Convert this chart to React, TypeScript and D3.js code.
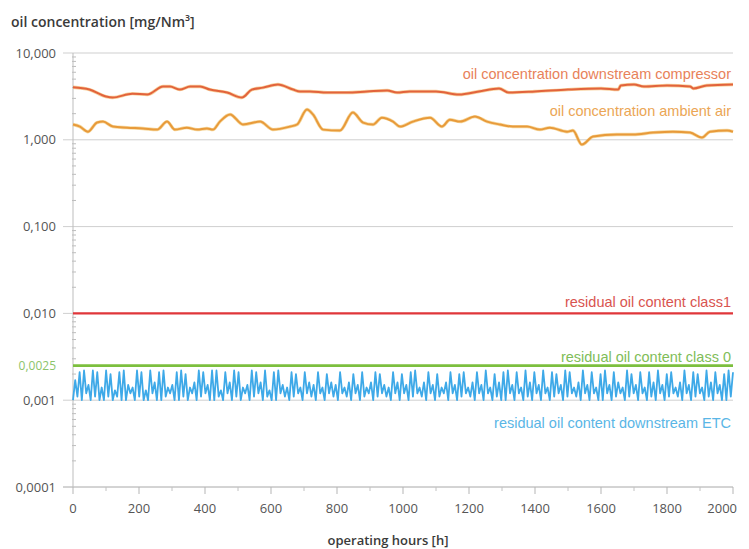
import React from 'react';
import * as d3 from 'd3';

// operating hours / oil concentration [mg/Nm³]
const compressorHours = [0, 50, 100, 120, 180, 225, 273, 294, 324, 355, 385, 415, 467, 512, 542, 576, 621, 667, 688, 718, 770, 830, 891, 952, 982, 1020, 1100, 1170, 1230, 1291, 1321, 1400, 1500, 1600, 1652, 1660, 1700, 1730, 1800, 1870, 1880, 1920, 2000];
const compressorValues = [4.03, 3.79, 3.15, 3.07, 3.4, 3.32, 4.11, 4.11, 3.79, 4.11, 4.11, 3.79, 3.5, 3.07, 3.79, 3.99, 4.33, 3.79, 3.6, 3.6, 3.5, 3.5, 3.6, 3.7, 3.5, 3.6, 3.6, 3.32, 3.6, 3.9, 3.5, 3.6, 3.79, 3.9, 3.79, 4.22, 4.33, 4.11, 4.22, 4.11, 3.9, 4.22, 4.33];

const ambientHours = [0, 21, 45, 73, 91, 121, 164, 212, 255, 285, 309, 345, 376, 406, 424, 445, 476, 515, 567, 606, 658, 679, 709, 727, 758, 809, 848, 879, 909, 936, 970, 991, 1030, 1082, 1118, 1142, 1173, 1218, 1255, 1294, 1333, 1376, 1415, 1445, 1497, 1515, 1542, 1576, 1648, 1697, 1758, 1818, 1870, 1906, 1930, 1982, 2000];
const ambientValues = [1.5, 1.42, 1.24, 1.58, 1.62, 1.42, 1.38, 1.35, 1.31, 1.62, 1.31, 1.38, 1.31, 1.35, 1.31, 1.62, 1.96, 1.5, 1.62, 1.31, 1.42, 1.5, 2.23, 1.96, 1.31, 1.28, 2.06, 1.58, 1.5, 1.8, 1.62, 1.42, 1.62, 1.8, 1.42, 1.7, 1.62, 1.85, 1.62, 1.5, 1.42, 1.42, 1.31, 1.38, 1.24, 1.28, 0.88, 1.09, 1.15, 1.15, 1.21, 1.24, 1.21, 1.06, 1.24, 1.28, 1.24];

const class1Value = 0.01;
const class0Value = 0.0025;

// residual oil content downstream ETC, evenly sampled over 0..2000 h
const etcValues = [
  0.0010, 0.0017, 0.0011, 0.0021, 0.0010, 0.0022, 0.0012, 0.0015, 0.0010, 0.0022, 0.0011, 0.0021, 0.0010, 0.0014, 0.0010, 0.0022, 0.0011, 0.0020, 0.0010, 0.0013,
  0.0011, 0.0021, 0.0010, 0.0022, 0.0010, 0.0015, 0.0012, 0.0014, 0.0010, 0.0022, 0.0011, 0.0021, 0.0010, 0.0013, 0.0010, 0.0022, 0.0012, 0.0016, 0.0010, 0.0021,
  0.0010, 0.0022, 0.0011, 0.0014, 0.0012, 0.0015, 0.0010, 0.0021, 0.0010, 0.0022, 0.0011, 0.0020, 0.0010, 0.0014, 0.0012, 0.0016, 0.0010, 0.0022, 0.0011, 0.0021,
  0.0012, 0.0015, 0.0010, 0.0022, 0.0010, 0.0022, 0.0011, 0.0013, 0.0010, 0.0021, 0.0012, 0.0016, 0.0010, 0.0022, 0.0011, 0.0021, 0.0010, 0.0014, 0.0012, 0.0015,
  0.0010, 0.0022, 0.0011, 0.0021, 0.0012, 0.0016, 0.0010, 0.0022, 0.0011, 0.0013, 0.0010, 0.0021, 0.0010, 0.0022, 0.0012, 0.0015, 0.0011, 0.0014, 0.0010, 0.0021,
  0.0011, 0.0020, 0.0012, 0.0014, 0.0010, 0.0021, 0.0012, 0.0016, 0.0011, 0.0015, 0.0010, 0.0021, 0.0012, 0.0014, 0.0010, 0.0020, 0.0012, 0.0016, 0.0011, 0.0015,
  0.0010, 0.0021, 0.0012, 0.0014, 0.0011, 0.0016, 0.0010, 0.0020, 0.0012, 0.0015, 0.0010, 0.0021, 0.0011, 0.0014, 0.0012, 0.0016, 0.0010, 0.0021, 0.0011, 0.0020,
  0.0012, 0.0015, 0.0011, 0.0014, 0.0010, 0.0021, 0.0012, 0.0016, 0.0010, 0.0020, 0.0012, 0.0015, 0.0010, 0.0021, 0.0011, 0.0022, 0.0012, 0.0014, 0.0011, 0.0016,
  0.0010, 0.0021, 0.0012, 0.0015, 0.0010, 0.0020, 0.0011, 0.0014, 0.0012, 0.0016, 0.0010, 0.0021, 0.0012, 0.0015, 0.0010, 0.0020, 0.0011, 0.0021, 0.0012, 0.0014,
  0.0011, 0.0016, 0.0010, 0.0021, 0.0012, 0.0015, 0.0010, 0.0022, 0.0012, 0.0014, 0.0010, 0.0020, 0.0011, 0.0016, 0.0010, 0.0021, 0.0010, 0.0022, 0.0012, 0.0015,
  0.0010, 0.0021, 0.0012, 0.0014, 0.0010, 0.0022, 0.0011, 0.0016, 0.0010, 0.0021, 0.0012, 0.0015, 0.0010, 0.0022, 0.0012, 0.0014, 0.0010, 0.0021, 0.0011, 0.0020,
  0.0012, 0.0015, 0.0010, 0.0022, 0.0011, 0.0021, 0.0012, 0.0014, 0.0011, 0.0016, 0.0010, 0.0022, 0.0012, 0.0015, 0.0010, 0.0021, 0.0012, 0.0014, 0.0010, 0.0020,
  0.0010, 0.0022, 0.0012, 0.0015, 0.0010, 0.0021, 0.0011, 0.0016, 0.0012, 0.0014, 0.0010, 0.0022, 0.0011, 0.0020, 0.0012, 0.0015, 0.0010, 0.0021, 0.0012, 0.0014,
  0.0010, 0.0021, 0.0011, 0.0016, 0.0010, 0.0022, 0.0012, 0.0015, 0.0010, 0.0020, 0.0011, 0.0021, 0.0012, 0.0014, 0.0011, 0.0016, 0.0010, 0.0022, 0.0012, 0.0015,
  0.0010, 0.0021, 0.0011, 0.0020, 0.0012, 0.0014, 0.0010, 0.0022, 0.0011, 0.0016, 0.0010, 0.0021, 0.0012, 0.0015, 0.0010, 0.0020, 0.0010, 0.0022, 0.0011, 0.0021,
];

const yTickValues = [10, 1, 0.1, 0.01, 0.001, 0.0001];
const yTickLabels = ['10,000', '1,000', '0,100', '0,010', '0,001', '0,0001'];
const xTickValues = [0, 200, 400, 600, 800, 1000, 1200, 1400, 1600, 1800, 2000];

const W = 749;
const H = 549;
const axisFont = '"Open Sans", "Noto Sans", sans-serif';
const labelFont = '"Liberation Sans", Arial, sans-serif';

const App = () => {
  const x = d3.scaleLinear().domain([0, 2000]).range([73, 733]);
  const y = d3.scaleLog().domain([0.0001, 10]).range([487, 53]);

  const smooth = d3
    .line<[number, number]>()
    .x((d) => x(d[0]))
    .y((d) => y(d[1]))
    .curve(d3.curveMonotoneX);
  const straight = d3
    .line<[number, number]>()
    .x((d) => x(d[0]))
    .y((d) => y(d[1]));

  const compressor = compressorHours.map((h, i) => [h, compressorValues[i]] as [number, number]);
  const ambient = ambientHours.map((h, i) => [h, ambientValues[i]] as [number, number]);
  const etc = etcValues.map((v, i) => [(i * 2000) / (etcValues.length - 1), v] as [number, number]);

  const minorY = y.ticks().filter((t) => !yTickValues.some((m) => Math.abs(m - t) / m < 1e-6));
  const minorX = d3.range(100, 2000, 200);
  const [x0, x1] = x.range();

  return (
    <svg width={W} height={H} style={{ position: 'absolute', left: 0, top: 0, background: '#fff' }}>
      <text x={11} y={27} fontFamily={axisFont} fontWeight={600} fontSize={14} fill="#3a3a3a">
        oil concentration [mg/Nm³]
      </text>

      {/* grid + y axis */}
      {yTickValues.map((v, i) => (
        <g key={v}>
          <line x1={63} x2={x1} y1={y(v)} y2={y(v)} stroke={i === yTickValues.length - 1 ? '#a8a8a8' : '#cfcfcf'} />
          <text x={56} y={y(v) + 4.5} textAnchor="end" fontFamily={axisFont} fontSize={13} fill="#555">
            {yTickLabels[i]}
          </text>
        </g>
      ))}
      {minorY.map((t) => (
        <line key={t} x1={72} x2={76} y1={y(t)} y2={y(t)} stroke="#bdbdbd" />
      ))}
      <line x1={x0} x2={x0} y1={53} y2={487} stroke="#bdbdbd" />

      {/* x axis */}
      {xTickValues.map((v, i) => (
        <g key={v}>
          <line x1={x(v)} x2={x(v)} y1={487} y2={494} stroke="#b5b5b5" />
          <text
            x={i === xTickValues.length - 1 ? x(v) + 4 : x(v)}
            y={513}
            textAnchor={i === xTickValues.length - 1 ? 'end' : 'middle'}
            fontFamily={axisFont}
            fontSize={13}
            fill="#555"
          >
            {v}
          </text>
        </g>
      ))}
      {minorX.map((v) => (
        <line key={v} x1={x(v)} x2={x(v)} y1={487} y2={491} stroke="#c2c2c2" />
      ))}
      <text x={388} y={545} textAnchor="middle" fontFamily={axisFont} fontWeight={600} fontSize={13} fill="#3a3a3a">
        operating hours [h]
      </text>

      {/* limit lines */}
      <line x1={x0} x2={x1} y1={y(class1Value)} y2={y(class1Value)} stroke="#e0363a" strokeWidth={2.2} />
      <path d={straight(etc) ?? ''} fill="none" stroke="#3ea9e8" strokeWidth={1.8} strokeLinejoin="round" />
      <line x1={x0} x2={x1} y1={y(class0Value)} y2={y(class0Value)} stroke="#7cbf3e" strokeWidth={2.6} />
      <text x={56} y={y(class0Value) + 4} textAnchor="end" fontFamily={axisFont} fontSize={12} fill="#8cc46a">
        0,0025
      </text>

      {/* measured series */}
      <path d={smooth(compressor) ?? ''} fill="none" stroke="#f3b15a" strokeWidth={3.4} opacity={0.6} />
      <path d={smooth(compressor) ?? ''} fill="none" stroke="#e2633c" strokeWidth={2} />
      <path d={smooth(ambient) ?? ''} fill="none" stroke="#f0c060" strokeWidth={3.4} opacity={0.6} />
      <path d={smooth(ambient) ?? ''} fill="none" stroke="#e89a3a" strokeWidth={2} />

      {/* series labels */}
      <g fontFamily={labelFont} fontSize={14.5} textAnchor="end">
        <text x={731} y={79} fill="#e8825a">oil concentration downstream compressor</text>
        <text x={731} y={116} fill="#eba655">oil concentration ambient air</text>
        <text x={731} y={307} fill="#d9544f">residual oil content class1</text>
        <text x={731} y={362} fill="#80bd58">residual oil content class 0</text>
        <text x={731} y={428} fill="#5ab6e6">residual oil content downstream ETC</text>
      </g>
    </svg>
  );
};

export default App;
